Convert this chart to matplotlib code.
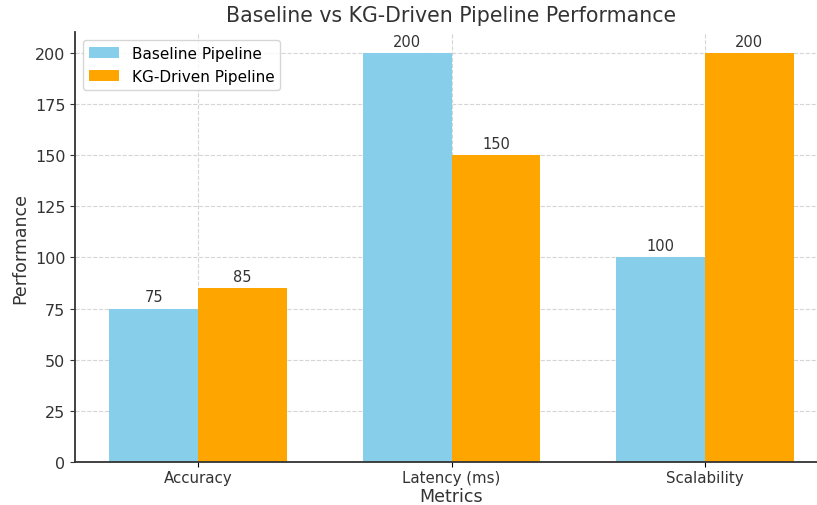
import matplotlib
matplotlib.use("Agg")
import matplotlib.pyplot as plt
import numpy as np

metrics = ["Accuracy", "Latency (ms)", "Scalability"]
baseline = [75, 200, 100]
kg_driven = [85, 150, 200]

fig = plt.figure(figsize=(8.17, 5.06), dpi=100)
ax = fig.add_axes([0.0918, 0.085, 0.9217, 0.849])

x = np.arange(len(metrics))
w = 0.35
b1 = ax.bar(x - w / 2, baseline, w, color="skyblue", label="Baseline Pipeline", zorder=2)
b2 = ax.bar(x + w / 2, kg_driven, w, color="orange", label="KG-Driven Pipeline", zorder=2)

for bars in (b1, b2):
    for rect in bars:
        h = rect.get_height()
        ax.annotate(f"{h}", (rect.get_x() + rect.get_width() / 2, h),
                    xytext=(0, 3), textcoords="offset points",
                    ha="center", va="bottom", fontsize=10.5, color="#333333")

ax.set_xticks(x)
ax.set_xticklabels(metrics, fontsize=10.8, color="#333333")
ax.tick_params(axis="x", pad=2)
ax.tick_params(axis="y", labelsize=11.5, colors="#333333")
ax.set_xlabel("Metrics", fontsize=12.5, color="#333333", labelpad=2)
ax.set_ylabel("Performance", fontsize=12.5, color="#333333")
ax.set_title("Baseline vs KG-Driven Pipeline Performance", fontsize=14.8, color="#333333", pad=8)
ax.set_ylim(0, 210)
ax.grid(True, linestyle="--", color="#d5d5d5", linewidth=0.8, zorder=0)
ax.set_axisbelow(True)
for side in ("top", "right"):
    ax.spines[side].set_visible(False)
for side in ("left", "bottom"):
    ax.spines[side].set_color("#333333")
    ax.spines[side].set_linewidth(1.3)
ax.legend(loc="upper left", fontsize=11)

fig.savefig("out.png", dpi=100)
